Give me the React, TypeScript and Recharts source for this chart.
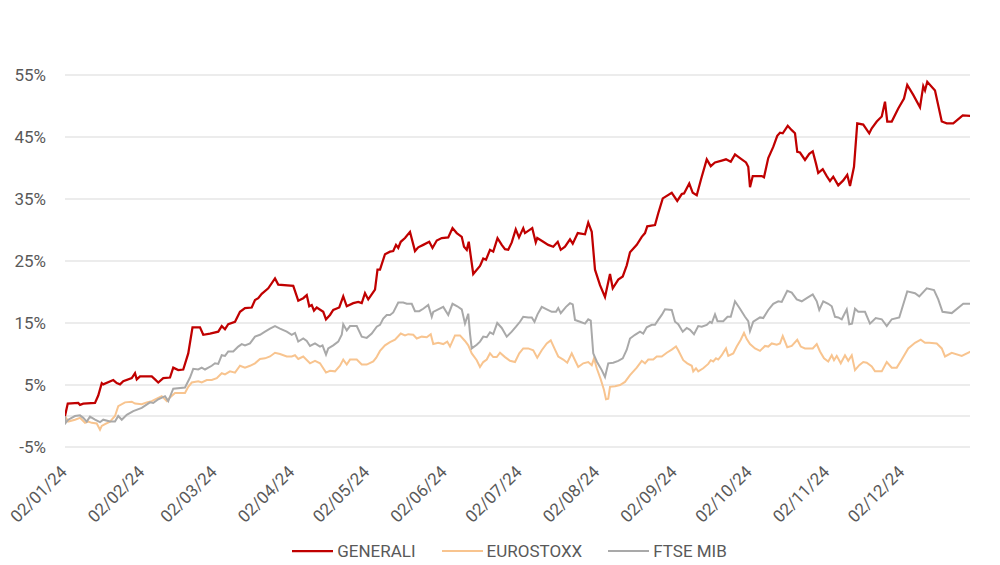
import React from "react";
import { LineChart, Line, XAxis, YAxis, CartesianGrid, ReferenceLine, Legend } from "recharts";

// Points: [days since 02/01/24, cumulative performance in %]
const GENERALI: [number, number][] = [
  [0,0],[1.1,2.0],[5.3,2.1],[6,1.8],[7.3,2.0],[12,2.1],[13.3,3.3],[14.7,5.3],[15.3,5.1],[19.3,5.8],[20.7,5.3],[22,5.1],[23.3,5.6],[26.7,6.1],[28,6.9],[28.7,5.9],[30,6.4],[34.7,6.4],[36,5.9],[37.3,5.4],[39.3,6.1],[42,6.2],[43.3,7.8],[45.3,7.4],[47.3,7.5],[49.3,10.1],[51,14.3],[54,14.3],[55.3,13.1],[58,13.3],[61.3,13.6],[62.7,14.5],[64,14.0],[65.3,14.8],[68,15.2],[70,16.8],[72,17.4],[74.7,17.5],[76,18.7],[77.3,19.0],[78.7,19.7],[81.3,20.6],[84,22.2],[85.3,21.2],[91.3,21.0],[93.3,18.6],[95.3,19.0],[96.7,19.5],[97.7,17.7],[98.7,17.9],[99.6,17.0],[100.7,17.5],[103.3,16.8],[104.4,15.6],[106,16.3],[107.3,17.1],[109.7,17.5],[111.3,19.3],[112.7,17.7],[115.3,18.2],[117.3,18.4],[118.7,18.2],[120,19.8],[121.3,18.8],[124,20.4],[125,23.6],[126,23.6],[128,26.1],[130,26.5],[131.3,26.6],[132.4,27.6],[133.3,27.1],[134.3,28.1],[136,28.7],[138,29.7],[140,26.6],[141.3,27.2],[143.3,27.6],[145.7,28.1],[147,27.1],[148.7,28.3],[150.7,28.7],[153.3,28.8],[155,30.3],[156.7,29.5],[158.7,28.9],[159.6,27.3],[160.7,26.8],[161.5,28.1],[163.3,22.9],[166,24.2],[167.3,25.4],[168.4,25.2],[170,26.8],[171.3,26.5],[173,28.7],[174.7,27.6],[176,26.9],[177.3,26.8],[178.7,28.0],[180.3,30.1],[181.6,28.8],[183.3,30.3],[184,29.5],[186.9,30.3],[188.3,28.0],[188.9,28.7],[191.3,28.1],[193.3,27.6],[195.3,27.3],[197.1,28.1],[198.3,26.8],[200,27.3],[202,28.5],[203.1,27.8],[205.1,29.5],[208,29.3],[209.3,31.2],[210.7,29.7],[212,23.6],[214,21.1],[216,19.2],[218,22.9],[219.1,20.6],[221.3,22.0],[223.1,22.5],[224.7,24.3],[226,26.4],[228.7,27.6],[230.7,28.9],[232,29.5],[232.9,30.6],[236,30.8],[237.3,32.7],[239.1,35.1],[242.7,36.0],[244.9,34.7],[246.7,35.8],[247.6,35.9],[249.7,37.5],[251.1,36.0],[252.7,35.6],[254.5,38.3],[256.7,41.4],[258.3,40.3],[260,40.9],[262.7,41.2],[264.4,41.4],[266.3,41.0],[268,42.2],[270,41.6],[272.4,40.9],[273.3,40.2],[274,36.9],[275.1,38.7],[278.7,38.7],[279.6,38.5],[281.3,41.6],[283.3,43.4],[284.9,45.2],[286,45.7],[287.1,45.6],[289.1,46.8],[290.7,46.1],[292,45.6],[292.9,42.6],[294,42.5],[296,41.3],[297.7,42.3],[299.1,42.7],[300.4,40.7],[301.3,39.2],[303.1,39.8],[304.7,38.7],[306,37.9],[307.3,38.6],[309.3,37.2],[311.3,38.0],[312.9,38.9],[314,37.1],[315.6,40.2],[316.9,47.2],[319.3,47.0],[321.7,45.6],[322.7,46.4],[324.7,47.5],[326.7,48.3],[328,50.7],[328.9,47.5],[330.7,47.5],[333.3,49.6],[335.6,51.2],[336.9,53.4],[339.3,51.8],[342,49.8],[343.3,53.2],[344,52.5],[344.9,53.9],[348,52.5],[350.7,47.5],[352.7,47.2],[355.3,47.2],[359.1,48.5],[362.3,48.4]
];

const EUROSTOXX: [number, number][] = [
  [0,0],[1.3,-0.9],[4,-0.6],[6,-0.3],[8,-1.1],[9.3,-0.9],[10.7,-1.1],[12.7,-1.2],[14,-2.2],[14.7,-1.6],[16,-1.3],[18,-0.9],[20,0],[21.3,1.6],[24,2.2],[26.7,2.3],[28,2.0],[30.7,1.9],[32.7,2.2],[34.7,2.4],[36.7,2.8],[38.7,3.2],[40.7,2.4],[42,3.0],[44,3.7],[48,3.7],[49.3,4.7],[50.7,5.4],[53.3,5.6],[54.7,5.4],[56.7,5.8],[58.7,5.8],[60.7,6.1],[62.7,6.9],[64,6.7],[66,7.2],[68,7.0],[70,8.1],[72,7.8],[74,8.1],[76,8.5],[78,9.2],[80,9.3],[82,9.6],[84,10.2],[86,10.0],[88.7,9.6],[90.7,9.6],[92,9.8],[93.3,9.2],[95.3,9.6],[98,8.5],[100,8.9],[102,8.5],[104.4,7.0],[106,7.3],[108,7.2],[110,8.1],[111.3,9.1],[112.7,8.3],[114,9.1],[116.7,9.1],[118.7,8.3],[120.7,8.3],[123.3,8.8],[124.5,9.4],[126,10.5],[128,11.4],[130,11.9],[132,12.3],[134.3,13.3],[136,13.0],[137.3,13.2],[139.3,13.1],[140.7,12.5],[142.7,12.8],[144.7,12.7],[146.3,13.2],[147.3,11.6],[149.3,11.8],[151.3,11.6],[152.9,12.0],[154,11.2],[156,13.0],[158,13.0],[160,12.1],[161.3,11.4],[162.7,10.1],[164.7,9.0],[166,7.9],[167.3,8.7],[168.7,9.1],[170,10.1],[171.3,9.5],[172.7,9.5],[174,10.2],[176,9.5],[178,8.9],[180,8.7],[181.7,10.1],[183.3,10.9],[185.3,10.9],[187.3,10.6],[188.9,9.4],[190.7,10.6],[192.7,11.7],[194.3,12.2],[196,10.7],[197.3,9.6],[199.3,9.1],[200.9,8.6],[202.7,10.1],[204,9.0],[205.3,7.9],[207.3,8.5],[209.3,8.7],[210.7,8.2],[211.6,9.3],[212.7,7.7],[214.3,5.9],[215.6,4.2],[216.4,2.7],[217.3,2.8],[218,4.7],[220,4.8],[222,5.0],[224,5.5],[226,6.6],[228.7,7.8],[230.7,8.9],[232,8.5],[233.3,9.1],[235.3,9.1],[236.7,9.6],[238.7,9.6],[240.7,10.2],[242.7,10.7],[244.4,11.2],[245.3,10.6],[247.3,9.0],[248.9,8.5],[250.7,8.1],[251.3,7.2],[252.4,7.7],[253.3,7.2],[255.3,7.7],[257.3,8.4],[258.3,9.0],[259.3,8.8],[260.4,9.3],[261.3,9.1],[262.7,9.8],[263.6,10.4],[264.4,10.9],[265.3,9.7],[267.3,10.1],[268.7,11.2],[270.3,12.3],[271.6,13.4],[272.7,12.4],[274,11.6],[276,10.9],[278,10.5],[280,11.3],[281.3,11.2],[282.7,11.7],[284.7,11.5],[286,11.7],[287.1,12.9],[288.9,11.1],[290.7,11.3],[292.9,12.3],[294.3,11.2],[296,10.9],[299.1,10.9],[300.7,11.6],[302,10.4],[303.6,9.3],[305.3,8.8],[306.7,9.8],[307.6,9.0],[308.7,9.7],[310.3,8.5],[312,9.8],[313.3,8.9],[314.7,9.8],[316,7.4],[317.7,8.2],[319.3,8.7],[320.7,8.6],[322.7,8.0],[324,7.2],[326.7,7.2],[328.7,8.7],[330.7,7.8],[332.7,7.8],[334.7,9.1],[337.3,10.9],[340,11.8],[342.3,12.3],[344,11.8],[345.7,11.8],[348.7,11.7],[350.7,10.9],[352,9.6],[354.7,10.2],[358.7,9.7],[362.3,10.4]
];

const FTSE_MIB: [number, number][] = [
  [0,0],[0.3,-1.1],[1.3,-0.6],[4,0],[6,0.1],[7.3,-0.3],[8.7,-0.9],[10,-0.1],[12,-0.6],[14,-1.0],[15.3,-0.6],[18,-0.9],[20,-0.9],[21.3,0],[22.7,-0.6],[24.7,0.2],[27.3,0.8],[30.7,1.3],[34,2.2],[35.3,2.1],[37.3,2.7],[40,3.2],[41.3,2.4],[43.3,4.4],[48,4.6],[50,6.2],[51.3,7.6],[53.3,7.5],[54.7,7.8],[56,7.5],[58.7,8.1],[60,8.5],[61.3,8.4],[62.7,9.8],[64,9.7],[65.3,10.4],[67.3,10.4],[69.3,11.2],[70.7,11.6],[72,11.4],[74,11.7],[76,12.8],[78,13.1],[80,13.6],[82,14.1],[84,14.5],[86,14.1],[88.7,13.6],[90.7,13.1],[92,13.4],[93.3,12.0],[95.3,12.5],[96.7,12.1],[98,11.3],[100,11.7],[102,11.2],[103,11.4],[104.4,9.9],[105.3,10.9],[107.3,11.4],[109.3,12.0],[110.7,13.1],[111.3,14.8],[112.7,13.8],[114,14.5],[116.7,14.5],[118.7,12.8],[120.7,12.6],[122.7,13.3],[124.7,14.4],[126,14.7],[127.3,15.7],[128.7,16.3],[130,16.3],[131.3,16.7],[133.3,18.3],[135.3,18.3],[136.7,18.1],[138.7,18.1],[140,16.9],[141.7,16.9],[143.3,17.3],[145.3,17.9],[146.7,16.0],[147.3,16.8],[149.3,17.2],[151.3,17.6],[153.3,16.3],[155,18.1],[156.9,17.7],[158.7,17.2],[160,14.9],[161.3,16.5],[162,13.3],[162.7,10.9],[164.7,11.5],[166,12.0],[167.3,12.8],[168.7,12.7],[170,13.5],[171.3,13.2],[172.9,15.0],[174.7,14.2],[176.7,12.8],[178.7,13.6],[180.4,14.4],[182,15.2],[183.3,16.0],[185.3,15.9],[186.7,15.9],[187.8,15.2],[189,16.4],[190.7,17.6],[192.7,17.2],[194.7,16.8],[196.4,16.8],[197.3,17.4],[198.3,16.6],[200.4,17.6],[202,18.2],[203.1,18.0],[204,15.5],[206,15.2],[208,14.9],[209.3,15.6],[210.3,15.4],[211.3,10.1],[212.7,8.8],[214.7,7.4],[216,6.3],[217.3,8.5],[219.3,8.6],[221.3,8.9],[223.1,9.3],[224.7,10.7],[226,12.5],[228,13.1],[230,13.6],[231.3,13.3],[232.7,14.3],[234.7,14.7],[236,14.7],[237.3,15.5],[238.7,16.3],[240,17.2],[242.7,17.1],[244,15.2],[245.3,14.8],[247.1,13.6],[248.7,14.2],[250,13.9],[251.6,13.2],[253.3,14.5],[254.7,14.4],[256.7,14.7],[258,15.2],[258.7,15.0],[260,16.4],[261,15.3],[263.3,15.3],[265,16.0],[266.3,16.0],[268,18.5],[270,17.3],[272,16.0],[273.3,15.3],[274,13.7],[275.3,15.2],[278,15.9],[279.3,15.8],[281.3,17.1],[283.3,18.1],[285.3,18.5],[286.7,18.4],[288.9,20.2],[290.7,19.9],[292.7,18.8],[294.7,18.5],[296.7,19.0],[299.1,19.6],[300.7,18.5],[301.7,17.1],[303.3,18.5],[305.3,18.1],[306.7,17.7],[308,16.0],[309.3,15.9],[310.7,15.6],[312.7,17.2],[313.7,14.8],[314.8,14.9],[316,17.3],[317.3,16.8],[320,16.8],[322,14.9],[324.3,15.8],[326.7,15.6],[328.7,14.5],[330.7,15.6],[333.7,15.9],[336.9,20.1],[340,19.8],[341.7,19.3],[344.7,20.6],[347.6,20.3],[349.3,18.8],[351,16.8],[354.7,16.6],[359.3,18.1],[362.3,18.1]
];

const X_TICK_LABELS = ["02/01/24","02/02/24","02/03/24","02/04/24","02/05/24","02/06/24","02/07/24","02/08/24","02/09/24","02/10/24","02/11/24","02/12/24"];
const Y_TICKS = [-5, 5, 15, 25, 35, 45, 55];
const SERIES_NAMES = ["GENERALI", "EUROSTOXX", "FTSE MIB"];

const FONT = "Roboto, 'Open Sans', sans-serif";
const FONT_SIZE = 17;
const TEXT_COLOR = "#595959";
const GRID_COLOR = "#D9D9D9";

const START = Date.UTC(2024, 0, 2);
const toDay = (s: string) => {
  const [d, m, y] = s.split("/").map(Number);
  return (Date.UTC(2000 + y, m - 1, d) - START) / 86400000;
};
const X_TICKS = X_TICK_LABELS.map(toDay);
const LABEL_BY_DAY = new Map<number, string>(X_TICKS.map((d, i) => [d, X_TICK_LABELS[i]]));

const toRows = (pts: [number, number][]) => pts.map(([day, value]) => ({ day, value }));

const SERIES = [
  { name: SERIES_NAMES[0], color: "#C00000", width: 2.25, rows: toRows(GENERALI) },
  { name: SERIES_NAMES[1], color: "#F8C48F", width: 2, rows: toRows(EUROSTOXX) },
  { name: SERIES_NAMES[2], color: "#A9A9A9", width: 2, rows: toRows(FTSE_MIB) },
];

const XTick = (props: any) => {
  const { x, y, payload } = props;
  return (
    <g transform={`translate(${x + 3},${y + 18})`}>
      <text x={0} y={0} textAnchor="end" transform="rotate(-45)" fill={TEXT_COLOR} fontSize={FONT_SIZE} fontFamily={FONT}>
        {LABEL_BY_DAY.get(payload.value) ?? ""}
      </text>
    </g>
  );
};

const renderLegend = () => (
  <div style={{ display: "flex", justifyContent: "center", alignItems: "center", height: 20, paddingLeft: 19, fontFamily: FONT, fontSize: FONT_SIZE, color: TEXT_COLOR }}>
    {SERIES.map((s) => (
      <div key={s.name} style={{ display: "flex", alignItems: "center", margin: "0 13px" }}>
        <svg width={41} height={4} style={{ display: "block" }}>
          <line x1={0} y1={2} x2={41} y2={2} stroke={s.color} strokeWidth={s.width} />
        </svg>
        <span style={{ marginLeft: 4, lineHeight: "20px" }}>{s.name}</span>
      </div>
    ))}
  </div>
);

export default function App() {
  const drawOrder = [SERIES[1], SERIES[2], SERIES[0]];
  return (
    <div style={{ position: "absolute", left: 0, top: 0, width: 1000, height: 565, background: "#fff" }}>
      <LineChart width={1000} height={565} margin={{ top: 75, right: 30, bottom: 4, left: 0 }} style={{ fontFamily: FONT }}>
        <CartesianGrid horizontal={true} vertical={false} stroke={GRID_COLOR} strokeWidth={1} />
        <XAxis
          dataKey="day"
          type="number"
          domain={[0, 362]}
          ticks={X_TICKS}
          interval={0}
          axisLine={false}
          tickLine={false}
          height={94}
          tick={<XTick />}
          allowDataOverflow
        />
        <YAxis
          type="number"
          domain={[-5, 55]}
          ticks={Y_TICKS}
          interval={0}
          axisLine={false}
          tickLine={false}
          tickSize={0}
          tickMargin={19}
          width={65}
          tickFormatter={(v: number) => `${v}%`}
          tick={{ fill: TEXT_COLOR, fontSize: FONT_SIZE, fontFamily: FONT }}
        />
        <ReferenceLine y={0} stroke={GRID_COLOR} strokeWidth={1} />
        <Legend verticalAlign="bottom" height={20} content={renderLegend} wrapperStyle={{ left: 0, width: 1000 }} />
        {drawOrder.map((s) => (
          <Line
            key={s.name}
            data={s.rows}
            dataKey="value"
            name={s.name}
            type="linear"
            stroke={s.color}
            strokeWidth={s.width}
            dot={false}
            activeDot={false}
            isAnimationActive={false}
          />
        ))}
      </LineChart>
    </div>
  );
}
